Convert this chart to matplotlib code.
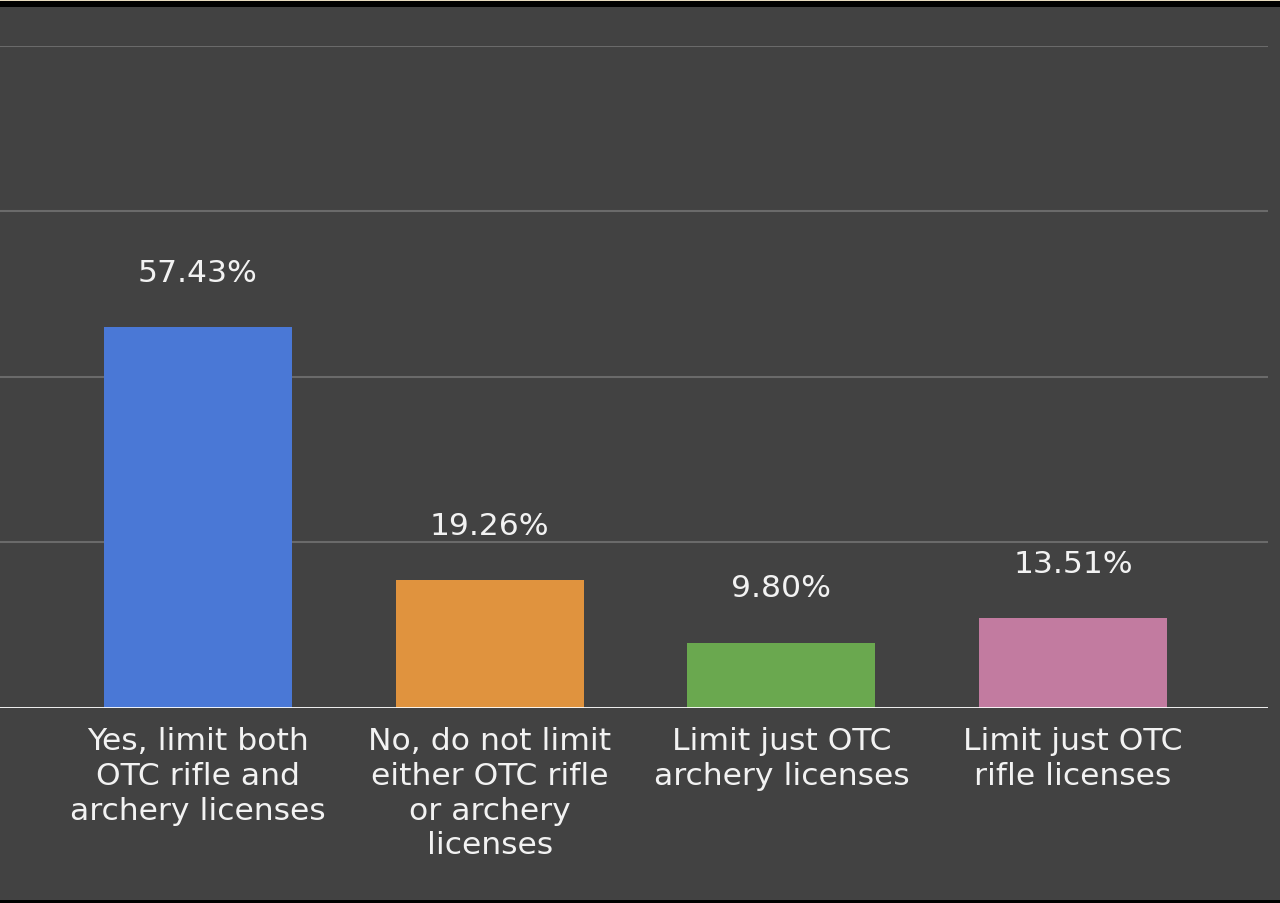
import matplotlib.pyplot as plt
from matplotlib.patches import Rectangle

categories = [
    "Yes, limit both\nOTC rifle and\narchery licenses",
    "No, do not limit\neither OTC rifle\nor archery\nlicenses",
    "Limit just OTC\narchery licenses",
    "Limit just OTC\nrifle licenses",
]
values = [57.43, 19.26, 9.80, 13.51]
colors = ["#4a78d6", "#e0933e", "#6aa84f", "#c27ba0"]
gridlines = [25, 50, 75, 100]

bg = "#424242"
text_color = "#f2f2f2"

fig = plt.figure(figsize=(12.8, 9.04), dpi=100, facecolor=bg)
ax = fig.add_axes([0, 1 - 708.5 / 904, 1268 / 1280, (707 - 45) / 904])
ax.set_facecolor(bg)

x = list(range(len(values)))
ax.bar(x, values, width=0.645, color=colors, zorder=3)

for xi, v in zip(x, values):
    ax.annotate(f"{v:.2f}%", (xi, v), xytext=(0, 39.5), textcoords="offset points",
                ha="center", va="center", color=text_color, fontsize=22.6)

# Set the gridlines and the white baseline
for g in gridlines:
    ax.axhline(g, color="#6a6a6a", linewidth=1.5, zorder=1)
ax.axhline(0, color="white", linewidth=2, zorder=4)

ax.set_xlim(-198 / 291.67, (1268 - 198) / 291.67)
ax.set_ylim(0, 100)
ax.set_yticks([])
ax.set_xticks(x)
ax.set_xticklabels(categories, color=text_color, fontsize=22.6, linespacing=1.25)
ax.tick_params(axis="x", length=0, pad=13.5)
for s in ax.spines.values():
    s.set_visible(False)

# Frame strips at the top and bottom of the screenshot
fig.patches.append(Rectangle((0, 1 - 8 / 904), 1, 6 / 904, transform=fig.transFigure,
                             facecolor="black", linewidth=0, zorder=0))
fig.patches.append(Rectangle((0, 1 - 2 / 904), 1, 2 / 904, transform=fig.transFigure,
                             facecolor="#e8dcc0", linewidth=0, zorder=1))
fig.patches.append(Rectangle((0, 0), 1, 3 / 904, transform=fig.transFigure,
                             facecolor="black", linewidth=0, zorder=0))

fig.savefig("out.png", dpi=100, facecolor=bg)
